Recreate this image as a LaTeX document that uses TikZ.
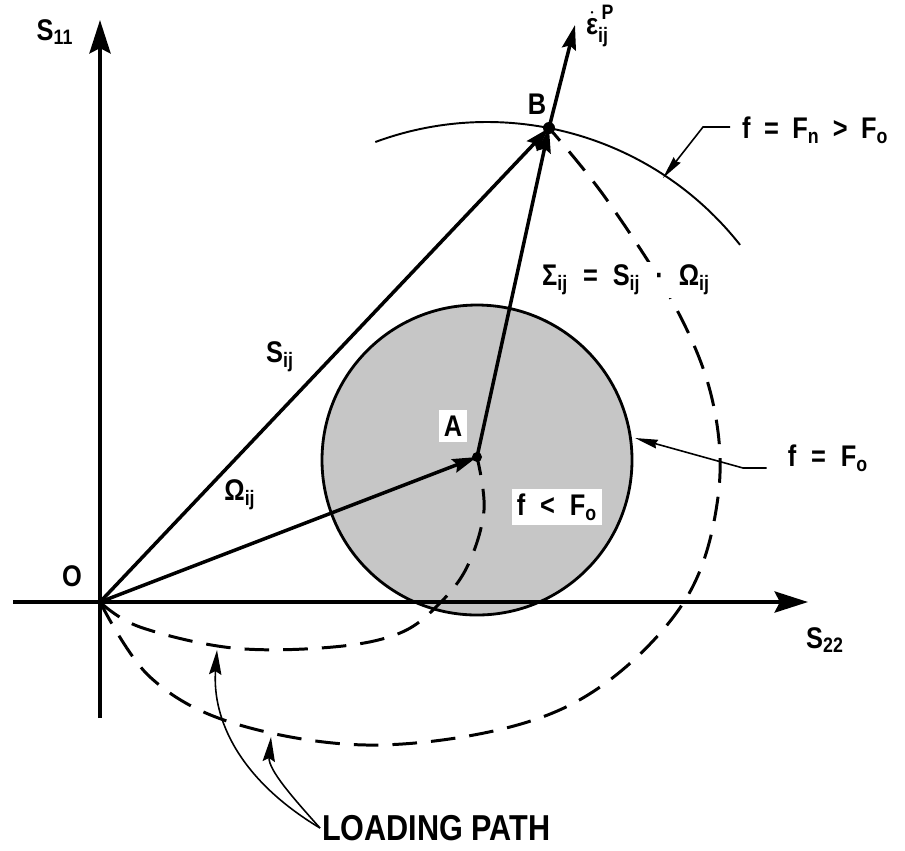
\documentclass[tikz,border=0pt]{standalone}
\usepackage{fontspec}
\usepackage{amsmath}
\setmainfont{Liberation Sans}[FakeStretch=0.85]
\usetikzlibrary{arrows.meta,positioning}
\newcommand\lsub[1]{\textsubscript{#1}}
\tikzset{
  axis/.style={line width=2.2pt,-{Stealth[length=19pt,width=12pt,inset=3pt]}},
  vec/.style={line width=2pt,-{Stealth[length=14pt,width=8pt,inset=2pt]}},
  pathdash/.style={line width=1.7pt,dash pattern=on 14pt off 8pt},
  leader/.style={line width=0.9pt,-{Stealth[length=13pt,width=5pt,inset=1pt]}},
  lbl/.style={font=\bfseries\fontsize{17}{19}\selectfont,inner sep=1pt},
  biglbl/.style={font=\bfseries\fontsize{20.5}{23}\selectfont,inner sep=1pt},
}
\begin{document}
\begin{tikzpicture}[x=0.02cm,y=-0.02cm]
\useasboundingbox (0,0) rectangle (905,850);
% points of the diagram
\coordinate (o) at (100,602);
\coordinate (a) at (477,457);
\coordinate (b) at (549,128);
\coordinate (c) at (477,460);
\coordinate (s11) at (100,20);
\coordinate (ybot) at (100,718);
\coordinate (xleft) at (13,602);
\coordinate (s22) at (808,602);
\coordinate (eps) at (575,25);

% yield surface f = F_o
\fill[gray!45] (c) circle[radius=155];
\draw[line width=1.6pt] (c) circle[radius=155];

% axes
\draw[axis] (ybot) -- (s11);
\draw[axis] (xleft) -- (s22);

% new surface through B
\draw[line width=1.1pt] (487,444) ++(-110.3:322) arc[start angle=-110.3,end angle=-38.2,radius=322];

% loading paths
\draw[pathdash] plot[smooth,tension=0.6] coordinates {(o) (140,627) (233,648) (333,647) (400,633) (440,603) (468,565) (484,510) (a)};
\draw[pathdash] plot[smooth,tension=0.6] coordinates {(o) (150,677) (233,723) (367,745) (510,727) (607,682) (687,597) (718,497) (713,403) (677,310) (607,200) (b)};

% vectors
\draw[vec] (o) -- (b);
\draw[vec] (o) -- (a);
\draw[vec] (a) -- (b);
\draw[vec] (b) -- (eps);
\fill (b) circle[radius=6];
\fill (a) circle[radius=5];

% labels
\node[lbl] (ls11) at (55,32) {S\lsub{11}};
\node[lbl] (ls22) at (825,640) {S\lsub{22}};
\node[lbl] (lo) at (72,576) {O};
\node[lbl] (lb) at (537,104) {B};
\node[lbl,anchor=west] (leps) at (584,26) {$\dot{\text{ε}}^{\,\text{P}}_{\text{ij}}$};
\node[lbl] (lsij) at (280,357) {S\lsub{ij}};
\node[lbl] (lom) at (240,495) {Ω\lsub{ij}};
\node[lbl,fill=white,inner sep=2pt] (lsig) at (626,280) {Σ\lsub{ij}\enspace=\enspace S\lsub{ij}\enspace·\enspace Ω\lsub{ij}};
\node[lbl,fill=white,inner sep=3pt] (la) at (453,426) {A};
\node[lbl,fill=white,inner sep=3pt] (lin) at (557,507) {f\enspace<\enspace F\lsub{o}};
\node[lbl] (lfo) at (828,458) {f\hspace{0.5em}=\hspace{0.5em}F\lsub{o}};
\node[lbl,anchor=west] (lfn) at (740,130) {f\hspace{0.45em}=\hspace{0.45em}F\lsub{n}\hspace{0.45em}>\hspace{0.45em}F\lsub{o}};
\node[biglbl,anchor=west] (load) at (320,828) {LOADING PATH};

% leaders
\draw[leader] (lfn.west) ++(-10,-3) -- (703,127) -- (663,178);
\draw[leader] (lfo.west) ++(-19,10) -- (743,468) -- (635,438);
\draw[line width=0.9pt,-{Stealth[length=14pt,width=7pt,inset=2pt]}] (load.west) .. controls (240,780) and (212,720) .. (217,650);
\draw[line width=0.9pt,-{Stealth[length=14pt,width=7pt,inset=2pt]}] (load.west) .. controls (295,800) and (268,770) .. (271,737);
\end{tikzpicture}
\end{document}
